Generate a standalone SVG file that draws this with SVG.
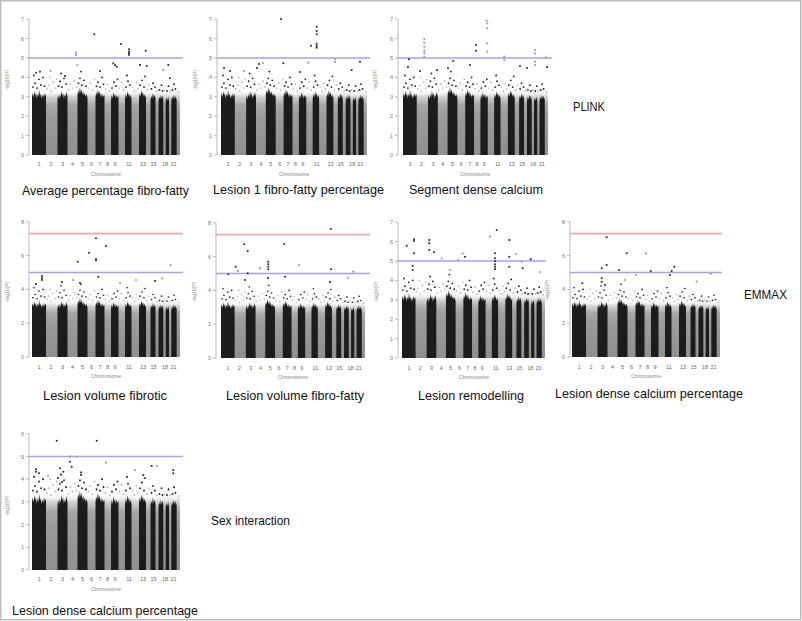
<svg xmlns="http://www.w3.org/2000/svg" width="802" height="621" viewBox="0 0 802 621">
<style>
.cap{font-family:"Liberation Sans",Arial,sans-serif;font-size:13.5px;fill:#111}
.lbl{font-family:"Liberation Sans",Arial,sans-serif;font-size:12.5px;fill:#111}
.tk{font-family:"Liberation Sans",Arial,sans-serif;font-size:5.5px;fill:#777;text-anchor:end}
.xt{font-family:"Liberation Sans",Arial,sans-serif;font-size:5.5px;fill:#666;text-anchor:middle}
.ax{font-family:"Liberation Sans",Arial,sans-serif;font-size:5px;fill:#888;text-anchor:middle}
.axis{stroke:#a8a8a8;stroke-width:0.8;fill:none}
.blue{stroke:#a3a3ef;stroke-width:1.6}
.red{stroke:#f2a8a8;stroke-width:1.6}
.hit circle{r:1.05px}
.hit{fill:#2e2e2e}
.hitg{fill:#9a9a9a}
.bk{fill:#1c1c1c}
.bd{fill:#262626}
.gd{fill:#bdbdbd}
</style>
<defs>
<linearGradient id="gg" x1="0" y1="0" x2="0" y2="1">
<stop offset="0" stop-color="#ffffff" stop-opacity="0"/>
<stop offset="0.12" stop-color="#d2d2d2"/>
<stop offset="0.24" stop-color="#a8a8a8"/>
<stop offset="0.4" stop-color="#9c9c9c"/>
<stop offset="1" stop-color="#8f8f8f"/>
</linearGradient>
<g id="mh">
<rect x="0" y="-68" width="148" height="68" fill="url(#gg)"/>
<path class="bk" d="M0 0V-60L0.8 -64 1.6 -59 2.4 -66 3.2 -61 4 -64 4.8 -58 5.6 -63 6.4 -60 7.2 -67 8 -61 8.8 -63 9.6 -58 10.4 -62 11.2 -59 12 -64 12.8 -60 13.4 -63 14 -61V0Z"/>
<path class="bk" d="M25.5 0V-58L26.3 -62 27.1 -57 27.9 -63 28.7 -59 29.5 -66 30.3 -61 31.1 -64 31.9 -58 32.7 -62 33.5 -60 34.3 -65 35.5 -60V0Z"/>
<path class="bk" d="M45.5 0V-62L46.3 -67 47.1 -63 47.9 -70 48.7 -64 49.5 -68 50.3 -62 51.1 -66 51.9 -61 52.7 -64 53.5 -60 54.3 -63 55.5 -59V0Z"/>
<path class="bk" d="M63.5 0V-60L64.3 -65 65.1 -61 65.9 -68 66.7 -63 67.5 -66 68.3 -60 69.1 -64 69.9 -59 70.7 -63 71.5 -60 72.5 -62V0Z"/>
<path class="bk" d="M79 0V-57L79.8 -62 80.6 -58 81.4 -65 82.2 -60 83 -63 83.8 -58 84.6 -62 85.4 -59 86.5 -61V0Z"/>
<path class="bk" d="M93 0V-58L93.8 -63 94.6 -59 95.4 -66 96.2 -61 97 -64 97.8 -59 98.6 -62 99.5 -58V0Z"/>
<path class="bk" d="M107 0V-59L107.8 -64 108.6 -60 109.4 -67 110.2 -62 111 -65 111.8 -60 112.6 -63 113.4 -59 114 -61V0Z"/>
<path class="bk" d="M118.5 0V-57L119.3 -61 120.1 -58 120.9 -64 121.7 -59 122.5 -62 123.5 -58V0Z"/>
<path class="bk" d="M126.5 0V-56L127.3 -60 128.1 -57 128.9 -62 129.7 -58 130.5 -61 131.3 -57V0Z"/>
<path class="bk" d="M133.7 0V-55L134.5 -59 135.3 -56 136.1 -60 137 -56V0Z"/>
<path class="bk" d="M139.3 0V-56L140.1 -60 140.9 -57 141.7 -62 142.5 -58 143.3 -61 144.1 -57 144.7 -59V0Z"/>
<g class="gd">
<circle cx="15" cy="-68" r="0.95"/><circle cx="17" cy="-72" r="0.95"/><circle cx="19" cy="-66" r="0.95"/><circle cx="21" cy="-75" r="0.95"/><circle cx="23" cy="-69" r="0.95"/><circle cx="24.5" cy="-78" r="0.95"/><circle cx="18" cy="-80" r="0.95"/>
<circle cx="36.5" cy="-67" r="0.95"/><circle cx="38.5" cy="-73" r="0.95"/><circle cx="40.5" cy="-69" r="0.95"/><circle cx="42.5" cy="-76" r="0.95"/><circle cx="44.5" cy="-70" r="0.95"/>
<circle cx="56.5" cy="-69" r="0.95"/><circle cx="58.5" cy="-74" r="0.95"/><circle cx="60.5" cy="-67" r="0.95"/><circle cx="62.5" cy="-78" r="0.95"/>
<circle cx="73.5" cy="-68" r="0.95"/><circle cx="75.5" cy="-73" r="0.95"/><circle cx="77.5" cy="-66" r="0.95"/>
<circle cx="87.5" cy="-69" r="0.95"/><circle cx="89.5" cy="-75" r="0.95"/><circle cx="91.5" cy="-67" r="0.95"/>
<circle cx="100.5" cy="-70" r="0.95"/><circle cx="102.5" cy="-66" r="0.95"/><circle cx="104.5" cy="-74" r="0.95"/><circle cx="106" cy="-68" r="0.95"/>
<circle cx="115" cy="-67" r="0.95"/><circle cx="117" cy="-72" r="0.95"/><circle cx="125" cy="-66" r="0.95"/><circle cx="132.5" cy="-67" r="0.95"/><circle cx="138" cy="-66" r="0.95"/><circle cx="146.5" cy="-65" r="0.95"/>
</g>
<g class="bd">
<circle cx="1" cy="-70" r="0.95"/><circle cx="3" cy="-74" r="0.95"/><circle cx="5" cy="-69" r="0.95"/><circle cx="7" cy="-78" r="0.95"/><circle cx="9" cy="-72" r="0.95"/><circle cx="11" cy="-80" r="0.95"/><circle cx="12.5" cy="-71" r="0.95"/><circle cx="2" cy="-82" r="0.95"/>
<circle cx="26.5" cy="-71" r="0.95"/><circle cx="28" cy="-76" r="0.95"/><circle cx="30" cy="-70" r="0.95"/><circle cx="32" cy="-79" r="0.95"/><circle cx="34" cy="-73" r="0.95"/><circle cx="29" cy="-84" r="0.95"/>
<circle cx="46.5" cy="-74" r="0.95"/><circle cx="48" cy="-79" r="0.95"/><circle cx="50" cy="-72" r="0.95"/><circle cx="52" cy="-77" r="0.95"/><circle cx="54" cy="-71" r="0.95"/><circle cx="49" cy="-86" r="0.95"/>
<circle cx="64.5" cy="-71" r="0.95"/><circle cx="66" cy="-75" r="0.95"/><circle cx="68" cy="-70" r="0.95"/><circle cx="70" cy="-80" r="0.95"/><circle cx="71.5" cy="-73" r="0.95"/>
<circle cx="80" cy="-69" r="0.95"/><circle cx="82" cy="-75" r="0.95"/><circle cx="84" cy="-71" r="0.95"/><circle cx="85.5" cy="-78" r="0.95"/>
<circle cx="94" cy="-70" r="0.95"/><circle cx="96" cy="-76" r="0.95"/><circle cx="98" cy="-72" r="0.95"/><circle cx="95" cy="-82" r="0.95"/>
<circle cx="108" cy="-72" r="0.95"/><circle cx="110" cy="-77" r="0.95"/><circle cx="112" cy="-70" r="0.95"/><circle cx="113" cy="-81" r="0.95"/>
<circle cx="119.5" cy="-68" r="0.95"/><circle cx="121" cy="-74" r="0.95"/><circle cx="123" cy="-70" r="0.95"/>
<circle cx="127.5" cy="-67" r="0.95"/><circle cx="129.5" cy="-72" r="0.95"/><circle cx="130.5" cy="-66" r="0.95"/>
<circle cx="135" cy="-66" r="0.95"/><circle cx="136.5" cy="-71" r="0.95"/>
<circle cx="140.5" cy="-67" r="0.95"/><circle cx="142" cy="-73" r="0.95"/><circle cx="143.5" cy="-68" r="0.95"/>
</g>
</g>
<g id="xl">
<text class="xt" x="7.3" y="0">1</text><text class="xt" x="19" y="0">2</text><text class="xt" x="30.5" y="0">3</text><text class="xt" x="40.5" y="0">4</text><text class="xt" x="50.5" y="0">5</text><text class="xt" x="59.5" y="0">6</text><text class="xt" x="68" y="0">7</text><text class="xt" x="75.5" y="0">8</text><text class="xt" x="83" y="0">9</text><text class="xt" x="97" y="0">11</text><text class="xt" x="111" y="0">13</text><text class="xt" x="121.5" y="0">15</text><text class="xt" x="133" y="0">18</text><text class="xt" x="141.5" y="0">21</text>
</g>
</defs>
<rect x="0.75" y="0.75" width="800" height="619" fill="#ffffff" stroke="#bdbdbd" stroke-width="1.5"/>

<g id="panel-avg-fibrofatty">
<use href="#mh" transform="translate(32,155) scale(1,0.97)"/>
<path class="axis" d="M29 19.2V155M26 155H29M26 135.6H29M26 116.2H29M26 96.8H29M26 77.4H29M26 58H29M26 38.6H29M26 19.2H29"/>
<text class="tk" x="24" y="157">0</text><text class="tk" x="24" y="137.6">1</text><text class="tk" x="24" y="118.2">2</text><text class="tk" x="24" y="98.8">3</text><text class="tk" x="24" y="79.4">4</text><text class="tk" x="24" y="60">5</text><text class="tk" x="24" y="40.6">6</text><text class="tk" x="24" y="21.2">7</text>
<line class="blue" x1="29" y1="58" x2="183" y2="58"/>
<g class="hit"><circle cx="94.3" cy="34.3" r="1.1"/><circle cx="121" cy="44" r="1.1"/><circle cx="145.7" cy="50.7" r="1.1"/><circle cx="129" cy="49.3" r="1.1"/><circle cx="129" cy="51.7" r="1.1"/><circle cx="129" cy="53.3" r="1.1"/><circle cx="129" cy="55" r="1.1"/><circle cx="36" cy="72.7" r="1.1"/><circle cx="40" cy="71.7" r="1.1"/><circle cx="65" cy="76" r="1.1"/><circle cx="113.3" cy="63.3" r="1.1"/><circle cx="115" cy="65" r="1.1"/><circle cx="116.7" cy="66.7" r="1.1"/><circle cx="140" cy="65" r="1.1"/><circle cx="146.7" cy="66" r="1.1"/><circle cx="168.3" cy="65" r="1.1"/><circle cx="170" cy="78.3" r="1.1"/><circle cx="100" cy="71" r="1.1"/></g>
<g class="hitg"><circle cx="76" cy="52.7" r="1.1"/><circle cx="76" cy="55" r="1.1"/><circle cx="77.3" cy="65" r="1.1"/><circle cx="163.3" cy="70" r="1.1"/><circle cx="50.7" cy="71" r="1.1"/></g>
<use href="#xl" transform="translate(32,166)"/>
<text class="ax" x="106" y="176">Chromosome</text>
<text class="ax" transform="translate(9,80) rotate(-90)">-log10(P)</text>
<text class="cap" x="22" y="195" textLength="167" lengthAdjust="spacingAndGlyphs">Average percentage fibro-fatty</text>
</g>

<g id="panel-lesion1-fibrofatty">
<use href="#mh" transform="translate(221,155) scale(0.986,0.97)"/>
<path class="axis" d="M217 19.2V155M214 155H217M214 135.6H217M214 116.2H217M214 96.8H217M214 77.4H217M214 58H217M214 38.6H217M214 19.2H217"/>
<text class="tk" x="212" y="157">0</text><text class="tk" x="212" y="137.6">1</text><text class="tk" x="212" y="118.2">2</text><text class="tk" x="212" y="98.8">3</text><text class="tk" x="212" y="79.4">4</text><text class="tk" x="212" y="60">5</text><text class="tk" x="212" y="40.6">6</text><text class="tk" x="212" y="21.2">7</text>
<line class="blue" x1="217" y1="58" x2="370" y2="58"/>
<g class="hit"><circle cx="281" cy="19" r="1.1"/><circle cx="316.7" cy="26.7" r="1.1"/><circle cx="316.7" cy="31" r="1.1"/><circle cx="316.7" cy="34.3" r="1.1"/><circle cx="316.7" cy="43.7" r="1.1"/><circle cx="316.7" cy="46" r="1.1"/><circle cx="316.7" cy="47.7" r="1.1"/><circle cx="311" cy="45.7" r="1.1"/><circle cx="283.3" cy="63.3" r="1.1"/><circle cx="360" cy="61.7" r="1.1"/><circle cx="351.7" cy="70" r="1.1"/><circle cx="224" cy="68" r="1.1"/><circle cx="230" cy="71" r="1.1"/><circle cx="259" cy="64" r="1.1"/><circle cx="257" cy="68" r="1.1"/><circle cx="300" cy="72" r="1.1"/></g>
<g class="hitg"><circle cx="308.3" cy="62.7" r="1.1"/><circle cx="335" cy="59.3" r="1.1"/><circle cx="335" cy="62" r="1.1"/><circle cx="263" cy="63" r="1.1"/><circle cx="244" cy="71" r="1.1"/></g>
<use href="#xl" transform="translate(221,166) scale(0.986,1)"/>
<text class="ax" x="294" y="176">Chromosome</text>
<text class="ax" transform="translate(197,80) rotate(-90)">-log10(P)</text>
<text class="cap" x="213" y="194" textLength="171" lengthAdjust="spacingAndGlyphs">Lesion 1 fibro-fatty percentage</text>
</g>

<g id="panel-segment-dense-calcium">
<use href="#mh" transform="translate(403,155) scale(0.98,0.97)"/>
<path class="axis" d="M398 19.2V155M395 155H398M395 135.6H398M395 116.2H398M395 96.8H398M395 77.4H398M395 58H398M395 38.6H398M395 19.2H398"/>
<text class="tk" x="393" y="157">0</text><text class="tk" x="393" y="137.6">1</text><text class="tk" x="393" y="118.2">2</text><text class="tk" x="393" y="98.8">3</text><text class="tk" x="393" y="79.4">4</text><text class="tk" x="393" y="60">5</text><text class="tk" x="393" y="40.6">6</text><text class="tk" x="393" y="21.2">7</text>
<line class="blue" x1="398" y1="58" x2="552" y2="58"/>
<g class="hit"><circle cx="476" cy="45" r="1.1"/><circle cx="476" cy="50.7" r="1.1"/><circle cx="409" cy="59.3" r="1.1"/><circle cx="453.3" cy="61" r="1.1"/><circle cx="408" cy="67" r="1.1"/><circle cx="420" cy="71" r="1.1"/><circle cx="437" cy="70" r="1.1"/><circle cx="448" cy="68" r="1.1"/><circle cx="470" cy="65" r="1.1"/><circle cx="520" cy="66" r="1.1"/><circle cx="527" cy="68" r="1.1"/><circle cx="547" cy="67" r="1.1"/></g>
<g class="hitg"><circle cx="424.3" cy="39" r="1.1"/><circle cx="424.3" cy="42.7" r="1.1"/><circle cx="424.3" cy="46.7" r="1.1"/><circle cx="424.3" cy="50.7" r="1.1"/><circle cx="424.3" cy="53.3" r="1.1"/><circle cx="424.3" cy="56.7" r="1.1"/><circle cx="486.7" cy="20.7" r="1.1"/><circle cx="487.3" cy="23.3" r="1.1"/><circle cx="487.3" cy="28.3" r="1.1"/><circle cx="487.3" cy="43.3" r="1.1"/><circle cx="487.3" cy="51.7" r="1.1"/><circle cx="504.3" cy="56.7" r="1.1"/><circle cx="504.3" cy="60" r="1.1"/><circle cx="535" cy="50" r="1.1"/><circle cx="535" cy="53.3" r="1.1"/><circle cx="535" cy="61.7" r="1.1"/><circle cx="535" cy="65" r="1.1"/><circle cx="546" cy="57.3" r="1.1"/></g>
<use href="#xl" transform="translate(403,166) scale(0.98,1)"/>
<text class="ax" x="475" y="176">Chromosome</text>
<text class="ax" transform="translate(377,80) rotate(-90)">-log10(P)</text>
<text class="cap" x="409" y="194" textLength="134" lengthAdjust="spacingAndGlyphs">Segment dense calcium</text>
</g>

<text id="label-plink" class="lbl" x="573" y="111" textLength="32" lengthAdjust="spacingAndGlyphs">PLINK</text>

<g id="panel-lesion-volume-fibrotic">
<use href="#mh" transform="translate(32,357) scale(1,0.845)"/>
<path class="axis" d="M29 221.8V357M26 357H29M26 323.2H29M26 289.4H29M26 255.6H29M26 221.8H29"/>
<text class="tk" x="24" y="359">0</text><text class="tk" x="24" y="325.2">2</text><text class="tk" x="24" y="291.4">4</text><text class="tk" x="24" y="257.6">6</text><text class="tk" x="24" y="223.8">8</text>
<line class="red" x1="29" y1="233.6" x2="183" y2="233.6"/>
<line class="blue" x1="29" y1="272.5" x2="183" y2="272.5"/>
<g class="hit"><circle cx="96" cy="238.3" r="1.1"/><circle cx="89" cy="252.7" r="1.1"/><circle cx="106" cy="246" r="1.1"/><circle cx="77.7" cy="261.7" r="1.1"/><circle cx="96" cy="259" r="1.1"/><circle cx="96" cy="260.3" r="1.1"/><circle cx="42" cy="276" r="1.1"/><circle cx="42" cy="278.3" r="1.1"/><circle cx="42" cy="280" r="1.1"/><circle cx="98.3" cy="276.7" r="1.1"/><circle cx="36" cy="284" r="1.1"/><circle cx="62" cy="282" r="1.1"/><circle cx="80" cy="283" r="1.1"/><circle cx="155" cy="281" r="1.1"/></g>
<g class="hitg"><circle cx="170.7" cy="265" r="1.1"/><circle cx="136" cy="280" r="1.1"/><circle cx="162.3" cy="278.3" r="1.1"/><circle cx="73" cy="280" r="1.1"/><circle cx="120" cy="283" r="1.1"/></g>
<use href="#xl" transform="translate(32,368.5)"/>
<text class="ax" x="106" y="378">Chromosome</text>
<text class="ax" transform="translate(9,292) rotate(-90)">-log10(P)</text>
<text class="cap" x="43" y="400" textLength="124" lengthAdjust="spacingAndGlyphs">Lesion volume fibrotic</text>
</g>

<g id="panel-lesion-volume-fibrofatty">
<use href="#mh" transform="translate(221,358) scale(0.973,0.845)"/>
<path class="axis" d="M216 222.8V358M213 358H216M213 324.2H216M213 290.4H216M213 256.6H216M213 222.8H216"/>
<text class="tk" x="211" y="360">0</text><text class="tk" x="211" y="326.2">2</text><text class="tk" x="211" y="292.4">4</text><text class="tk" x="211" y="258.6">6</text><text class="tk" x="211" y="224.8">8</text>
<line class="red" x1="216" y1="234.6" x2="370" y2="234.6"/>
<line class="blue" x1="216" y1="273.5" x2="370" y2="273.5"/>
<g class="hit"><circle cx="330.7" cy="229" r="1.1"/><circle cx="284.3" cy="244" r="1.1"/><circle cx="244.3" cy="244.3" r="1.1"/><circle cx="247.7" cy="251" r="1.1"/><circle cx="268.3" cy="261.7" r="1.1"/><circle cx="268.3" cy="264.3" r="1.1"/><circle cx="268.3" cy="266.7" r="1.1"/><circle cx="268.3" cy="269.3" r="1.1"/><circle cx="235.7" cy="266.7" r="1.1"/><circle cx="247.7" cy="273.3" r="1.1"/><circle cx="331" cy="269.3" r="1.1"/><circle cx="228.3" cy="274.3" r="1.1"/><circle cx="285" cy="276.7" r="1.1"/><circle cx="245" cy="280" r="1.1"/><circle cx="268" cy="278" r="1.1"/><circle cx="330" cy="282" r="1.1"/></g>
<g class="hitg"><circle cx="299" cy="265" r="1.1"/><circle cx="353.3" cy="271.7" r="1.1"/><circle cx="260" cy="268.3" r="1.1"/><circle cx="238" cy="271" r="1.1"/><circle cx="348" cy="278" r="1.1"/></g>
<use href="#xl" transform="translate(221,369.5) scale(0.973,1)"/>
<text class="ax" x="293" y="379">Chromosome</text>
<text class="ax" transform="translate(196,292) rotate(-90)">-log10(P)</text>
<text class="cap" x="226" y="400" textLength="138" lengthAdjust="spacingAndGlyphs">Lesion volume fibro-fatty</text>
</g>

<g id="panel-lesion-remodelling">
<use href="#mh" transform="translate(402,358) scale(0.966,0.97)"/>
<path class="axis" d="M398 222.2V358M395 358H398M395 338.6H398M395 319.2H398M395 299.8H398M395 280.4H398M395 261H398M395 241.6H398M395 222.2H398"/>
<text class="tk" x="393" y="360">0</text><text class="tk" x="393" y="340.6">1</text><text class="tk" x="393" y="321.2">2</text><text class="tk" x="393" y="301.8">3</text><text class="tk" x="393" y="282.4">4</text><text class="tk" x="393" y="263">5</text><text class="tk" x="393" y="243.6">6</text><text class="tk" x="393" y="224.2">7</text>
<line class="blue" x1="398" y1="261" x2="546" y2="261"/>
<g class="hit"><circle cx="496.7" cy="230" r="1.1"/><circle cx="509.3" cy="240" r="1.1"/><circle cx="414" cy="239.3" r="1.1"/><circle cx="414" cy="241" r="1.1"/><circle cx="429.3" cy="240" r="1.1"/><circle cx="429.3" cy="243.3" r="1.1"/><circle cx="406.7" cy="245.7" r="1.1"/><circle cx="434" cy="252.3" r="1.1"/><circle cx="414" cy="253.3" r="1.1"/><circle cx="429.3" cy="250" r="1.1"/><circle cx="495" cy="253.3" r="1.1"/><circle cx="509.3" cy="256.7" r="1.1"/><circle cx="495" cy="258.3" r="1.1"/><circle cx="495" cy="261" r="1.1"/><circle cx="495" cy="264.3" r="1.1"/><circle cx="495" cy="266.7" r="1.1"/><circle cx="495" cy="269" r="1.1"/><circle cx="412.7" cy="265.7" r="1.1"/><circle cx="412.7" cy="270" r="1.1"/><circle cx="509.3" cy="266.7" r="1.1"/><circle cx="530.7" cy="259.3" r="1.1"/><circle cx="465" cy="256.7" r="1.1"/><circle cx="522.7" cy="268.3" r="1.1"/></g>
<g class="hitg"><circle cx="490" cy="236.7" r="1.1"/><circle cx="516" cy="254" r="1.1"/><circle cx="462.7" cy="253.3" r="1.1"/><circle cx="441.7" cy="258.3" r="1.1"/><circle cx="458.3" cy="260" r="1.1"/><circle cx="521.7" cy="261.7" r="1.1"/><circle cx="450" cy="270" r="1.1"/><circle cx="540" cy="272" r="1.1"/></g>
<use href="#xl" transform="translate(402,369.5) scale(0.966,1)"/>
<text class="ax" x="474" y="379">Chromosome</text>
<text class="ax" transform="translate(378,292) rotate(-90)">-log10(P)</text>
<text class="cap" x="418" y="400" textLength="106" lengthAdjust="spacingAndGlyphs">Lesion remodelling</text>
</g>

<g id="panel-lesion-dense-calcium-emmax">
<use href="#mh" transform="translate(572,357) scale(1,0.845)"/>
<path class="axis" d="M570 221.8V357M567 357H570M567 323.2H570M567 289.4H570M567 255.6H570M567 221.8H570"/>
<text class="tk" x="565" y="359">0</text><text class="tk" x="565" y="325.2">2</text><text class="tk" x="565" y="291.4">4</text><text class="tk" x="565" y="257.6">6</text><text class="tk" x="565" y="223.8">8</text>
<line class="red" x1="570" y1="233.6" x2="722" y2="233.6"/>
<line class="blue" x1="570" y1="272.5" x2="722" y2="272.5"/>
<g class="hit"><circle cx="606.7" cy="237.3" r="1.1"/><circle cx="626.7" cy="253.3" r="1.1"/><circle cx="601.7" cy="268.3" r="1.1"/><circle cx="606.7" cy="265" r="1.1"/><circle cx="619" cy="270" r="1.1"/><circle cx="650.7" cy="271" r="1.1"/><circle cx="674.3" cy="266.7" r="1.1"/><circle cx="671.7" cy="271" r="1.1"/><circle cx="601.7" cy="278.3" r="1.1"/><circle cx="601.7" cy="281.7" r="1.1"/><circle cx="670" cy="275" r="1.1"/><circle cx="582.3" cy="283.3" r="1.1"/><circle cx="605" cy="285" r="1.1"/></g>
<g class="hitg"><circle cx="646" cy="253.3" r="1.1"/><circle cx="636" cy="275" r="1.1"/><circle cx="710.7" cy="274" r="1.1"/><circle cx="696.7" cy="281.7" r="1.1"/><circle cx="625" cy="280" r="1.1"/></g>
<use href="#xl" transform="translate(572,368.5)"/>
<text class="ax" x="646" y="378">Chromosome</text>
<text class="ax" transform="translate(549,290) rotate(-90)">-log10(P)</text>
<text class="cap" x="555" y="398" textLength="188" lengthAdjust="spacingAndGlyphs">Lesion dense calcium percentage</text>
</g>

<text id="label-emmax" class="lbl" x="744" y="299" textLength="43" lengthAdjust="spacingAndGlyphs">EMMAX</text>

<g id="panel-lesion-dense-calcium-sex">
<use href="#mh" transform="translate(32,570) scale(1,1.135)"/>
<path class="axis" d="M29 433.8V570M26 570H29M26 547.3H29M26 524.6H29M26 501.9H29M26 479.2H29M26 456.5H29M26 433.8H29"/>
<text class="tk" x="24" y="572">0</text><text class="tk" x="24" y="549.3">1</text><text class="tk" x="24" y="526.6">2</text><text class="tk" x="24" y="503.9">3</text><text class="tk" x="24" y="481.2">4</text><text class="tk" x="24" y="458.5">5</text><text class="tk" x="24" y="435.8">6</text>
<line class="blue" x1="29" y1="456.5" x2="183" y2="456.5"/>
<g class="hit"><circle cx="56.7" cy="440.7" r="1.1"/><circle cx="96.7" cy="440.7" r="1.1"/><circle cx="70" cy="461.7" r="1.1"/><circle cx="71.7" cy="466.7" r="1.1"/><circle cx="36" cy="469.3" r="1.1"/><circle cx="36" cy="471.7" r="1.1"/><circle cx="39" cy="473.3" r="1.1"/><circle cx="151.7" cy="466" r="1.1"/><circle cx="173.3" cy="470" r="1.1"/><circle cx="173.3" cy="473.3" r="1.1"/><circle cx="60" cy="468.3" r="1.1"/><circle cx="63.3" cy="471.7" r="1.1"/><circle cx="81" cy="475" r="1.1"/><circle cx="58" cy="478" r="1.1"/><circle cx="62" cy="482" r="1.1"/><circle cx="143.3" cy="475" r="1.1"/></g>
<g class="hitg"><circle cx="70" cy="456.7" r="1.1"/><circle cx="76.7" cy="456.7" r="1.1"/><circle cx="106" cy="462.7" r="1.1"/><circle cx="156.7" cy="466" r="1.1"/><circle cx="135" cy="470" r="1.1"/><circle cx="48" cy="476" r="1.1"/></g>
<use href="#xl" transform="translate(32,581)"/>
<text class="ax" x="106" y="591">Chromosome</text>
<text class="ax" transform="translate(9,506) rotate(-90)">-log10(P)</text>
<text class="cap" x="12" y="615" textLength="186" lengthAdjust="spacingAndGlyphs">Lesion dense calcium percentage</text>
</g>

<text id="label-sex" class="lbl" x="211" y="525" textLength="79" lengthAdjust="spacingAndGlyphs">Sex interaction</text>
</svg>
